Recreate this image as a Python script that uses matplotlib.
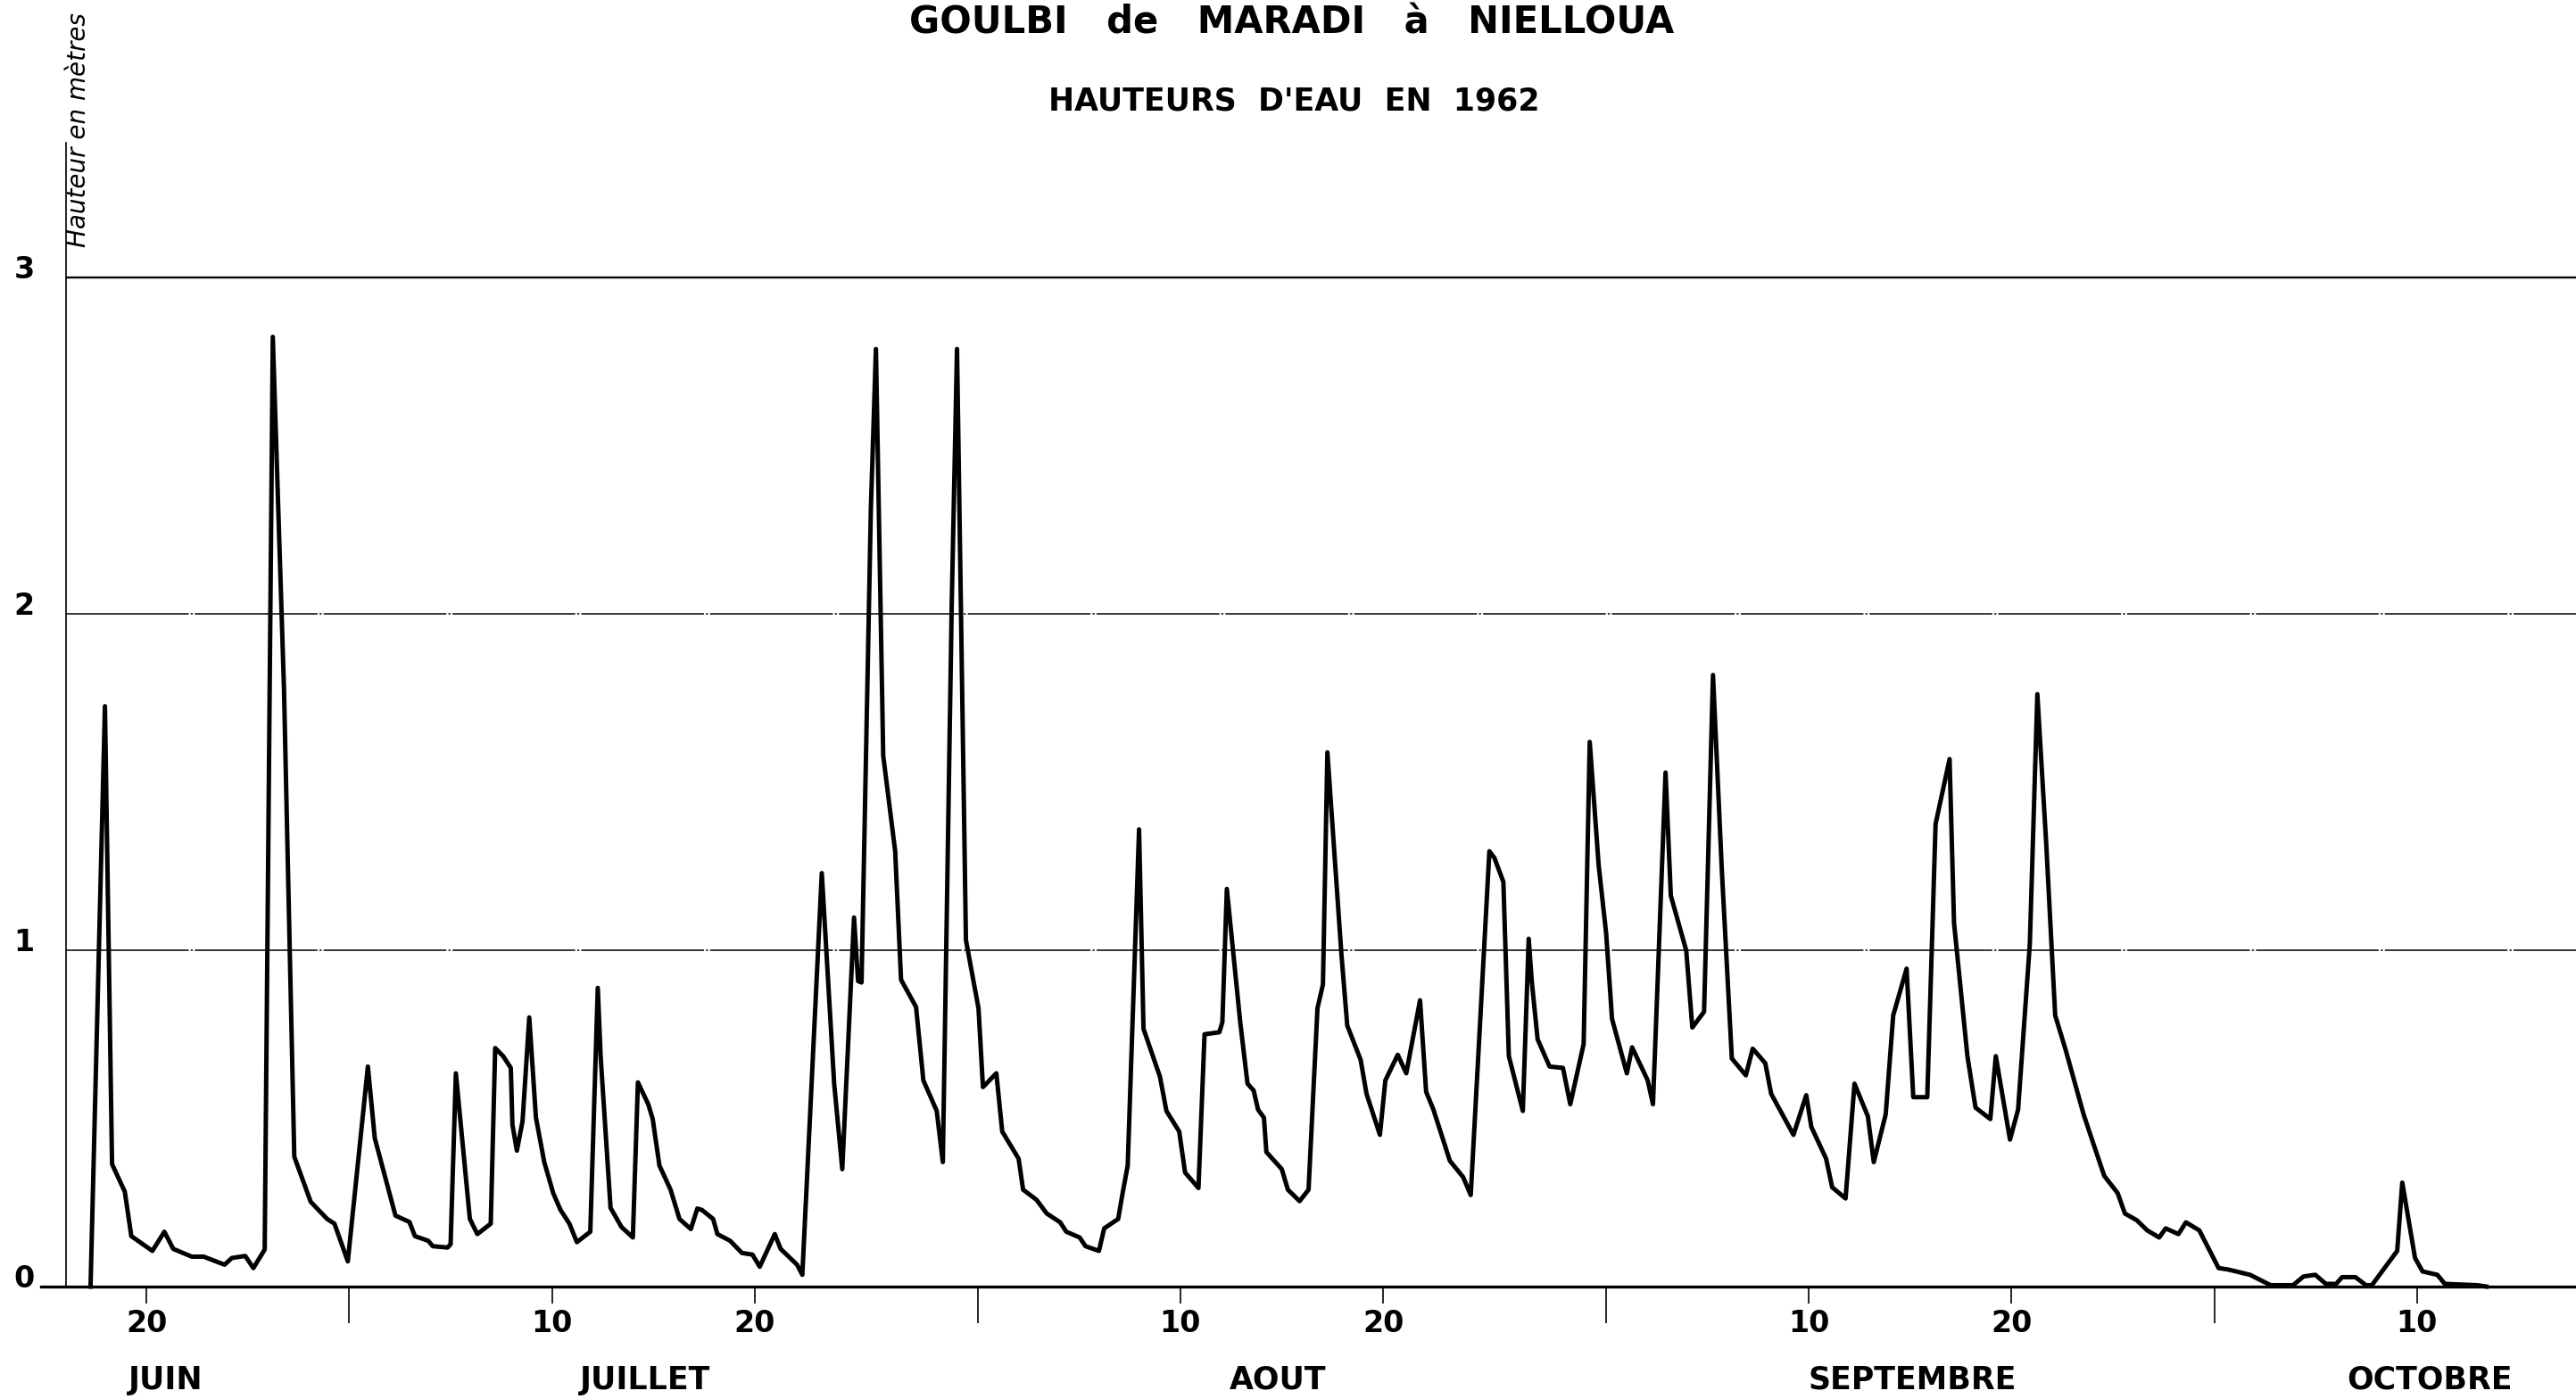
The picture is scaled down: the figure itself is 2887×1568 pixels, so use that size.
import matplotlib
matplotlib.use('Agg')
import matplotlib.pyplot as plt
from matplotlib import transforms

# Water levels of the Goulbi de Maradi at Nielloua, 1962.
# Time in days counted from 31 May (June n = n, July n = 30+n, Aug n = 61+n,
# Sep n = 92+n, Oct n = 122+n); readings are not exactly one per day.
days = [
    17.24, 17.95, 18.30, 18.93, 19.25, 20.29, 20.88, 21.32, 22.23, 22.82,
    23.85, 24.21, 24.87, 25.27, 25.83, 26.23, 26.78, 27.29, 28.10, 28.91,
    29.27, 29.93, 30.92, 31.26, 32.28, 32.97, 33.24, 33.90, 34.12, 34.85,
    35.00, 35.26, 35.95, 36.32, 36.98, 37.20, 37.59, 37.97, 38.05, 38.27,
    38.55, 38.88, 39.21, 39.62, 40.06, 40.42, 40.86, 41.23, 41.89, 42.26,
    42.40, 42.89, 43.43, 43.99, 44.24, 44.75, 44.97, 45.30, 45.85, 46.29,
    46.85, 47.17, 47.39, 47.95, 48.16, 48.79, 49.37, 49.89, 50.25, 50.99,
    51.28, 52.09, 52.35, 53.31, 53.92, 54.32, 54.90, 55.10, 55.27, 55.73,
    55.98, 56.34, 56.93, 57.22, 57.96, 58.32, 58.98, 59.28, 59.72, 59.98,
    60.42, 61.04, 61.26, 61.92, 62.21, 63.02, 63.24, 63.90, 64.41, 65.07,
    65.37, 66.03, 66.32, 66.98, 67.24, 67.93, 68.15, 68.40, 68.96, 69.18,
    69.99, 70.31, 70.94, 71.23, 71.89, 72.19, 72.92, 73.07, 73.29, 73.95,
    74.31, 74.61, 74.83, 75.12, 75.24, 76.00, 76.30, 76.88, 77.32, 77.76,
    78.03, 78.25, 78.94, 79.23, 79.89, 80.18, 80.84, 81.11, 81.72, 82.14,
    82.82, 83.12, 83.48, 84.29, 84.95, 85.32, 86.24, 86.49, 86.93, 87.20,
    87.89, 88.18, 88.33, 88.62, 89.21, 89.87, 90.23, 90.89, 91.19, 91.63,
    92.00, 92.29, 93.02, 93.28, 94.05, 94.31, 94.93, 95.19, 95.95, 96.25,
    96.83, 97.27, 97.71, 98.20, 98.89, 99.23, 99.85, 100.14, 101.02, 101.24,
    101.87, 102.12, 102.85, 103.15, 103.81, 104.25, 104.91, 105.20, 105.79, 106.16,
    106.82, 107.15, 107.84, 108.25, 108.94, 109.16, 109.82, 110.22, 110.95, 111.22,
    111.92, 112.32, 112.90, 113.27, 113.71, 114.15, 114.66, 115.55, 116.06, 116.57,
    117.23, 117.59, 118.18, 118.69, 119.28, 119.60, 120.23, 120.60, 121.26, 122.21,
    122.66, 123.76, 124.78, 125.88, 126.40, 126.98, 127.50, 128.01, 128.30, 128.96,
    129.48, 129.77, 131.02, 131.27, 131.90, 132.27, 133.00, 133.37, 134.98, 135.42,
]
hauteur = [
    0.000, 1.725, 0.364, 0.282, 0.150, 0.106, 0.163, 0.112, 0.089, 0.089,
    0.065, 0.085, 0.091, 0.055, 0.110, 2.823, 1.781, 0.386, 0.252, 0.201,
    0.187, 0.075, 0.654, 0.441, 0.211, 0.192, 0.150, 0.136, 0.120, 0.116,
    0.126, 0.634, 0.201, 0.156, 0.187, 0.709, 0.685, 0.650, 0.481, 0.404,
    0.492, 0.800, 0.502, 0.370, 0.278, 0.228, 0.187, 0.132, 0.163, 0.888,
    0.685, 0.234, 0.177, 0.146, 0.607, 0.542, 0.498, 0.360, 0.288, 0.201,
    0.171, 0.232, 0.228, 0.201, 0.156, 0.136, 0.100, 0.095, 0.059, 0.156,
    0.112, 0.065, 0.035, 1.229, 0.603, 0.349, 1.097, 0.908, 0.904, 2.310,
    2.787, 1.578, 1.294, 0.912, 0.831, 0.613, 0.522, 0.370, 2.030, 2.787,
    1.030, 0.827, 0.593, 0.634, 0.461, 0.380, 0.288, 0.258, 0.217, 0.191,
    0.163, 0.146, 0.120, 0.106, 0.173, 0.201, 0.278, 0.360, 1.359, 0.766,
    0.624, 0.522, 0.461, 0.339, 0.293, 0.750, 0.756, 0.786, 1.182, 0.786,
    0.603, 0.583, 0.526, 0.502, 0.400, 0.349, 0.288, 0.254, 0.288, 0.827,
    0.898, 1.588, 0.989, 0.776, 0.674, 0.573, 0.451, 0.613, 0.689, 0.634,
    0.851, 0.579, 0.526, 0.374, 0.325, 0.272, 1.294, 1.274, 1.203, 0.685,
    0.522, 1.034, 0.908, 0.735, 0.654, 0.650, 0.542, 0.721, 1.619, 1.253,
    1.050, 0.796, 0.634, 0.711, 0.613, 0.542, 1.528, 1.162, 0.999, 0.770,
    0.817, 1.818, 1.233, 0.678, 0.628, 0.707, 0.664, 0.573, 0.475, 0.451,
    0.569, 0.475, 0.380, 0.295, 0.262, 0.603, 0.506, 0.370, 0.512, 0.806,
    0.945, 0.563, 0.563, 1.375, 1.568, 1.081, 0.685, 0.532, 0.498, 0.685,
    0.437, 0.526, 1.020, 1.761, 1.314, 0.806, 0.705, 0.512, 0.420, 0.329,
    0.278, 0.217, 0.197, 0.167, 0.146, 0.173, 0.156, 0.191, 0.167, 0.055,
    0.051, 0.035, 0.004, 0.004, 0.030, 0.035, 0.008, 0.008, 0.028, 0.028,
    0.004, 0.004, 0.106, 0.309, 0.085, 0.045, 0.035, 0.008, 0.004, 0.000,
]

day_ticks = [20, 40, 50, 71, 81, 102, 112, 132]
day_labels = ['20', '10', '20', '10', '20', '10', '20', '10']
month_ends = [30, 61, 92, 122]
months = ['JUIN', 'JUILLET', 'AOUT', 'SEPTEMBRE', 'OCTOBRE']
month_pos = [20.96, 44.58, 75.82, 107.1, 132.6]
levels = [0, 1, 2, 3]

plt.rcParams['font.family'] = ['DejaVu Sans']

fig = plt.figure(figsize=(28.87, 15.68), dpi=100)
ax = fig.add_axes([0.02563, 0.08036, 0.97437, 0.8176])
ax.set_xlim(16.03, 139.84)
ax.set_ylim(0, 3.40)

# horizontal reference lines
ax.axhline(3, color='k', linewidth=1.7)
for lv in (1, 2):
    ax.axhline(lv, color='k', linewidth=1.1, linestyle=(0, (90, 1.5, 1.5, 1.5)))
ax.axhline(0, xmin=-0.01, xmax=1, color='k', linewidth=2.4, clip_on=False)

ax.plot(days, hauteur, color='k', linewidth=3.6, solid_joinstyle='round',
        clip_on=False, zorder=5)

for s in ['top', 'right', 'bottom']:
    ax.spines[s].set_visible(False)
ax.spines['left'].set_linewidth(1.2)
ax.set_yticks([])

ax.set_xticks(day_ticks)
ax.set_xticklabels(day_labels, fontsize=24, fontweight='bold')
ax.set_xticks(month_ends, minor=True)
ax.tick_params(axis='x', which='major', length=13.7, width=1.2, pad=4, direction='out')
ax.tick_params(axis='x', which='minor', length=29.5, width=1.2, direction='out')

# level labels to the left of the axis
trans_y = transforms.blended_transform_factory(fig.transFigure, ax.transData)
for lv in levels:
    ax.text(0.0094, lv + 0.022, str(lv), transform=trans_y, ha='center', va='center',
            fontsize=24, fontweight='bold')

# month names under the day labels
trans_x = transforms.blended_transform_factory(ax.transData, fig.transFigure)
for m, p in zip(months, month_pos):
    ax.text(p, 0.0134, m, transform=trans_x, ha='center', va='center',
            fontsize=25, fontweight='bold', clip_on=False)

fig.text(0.0305, 0.8233, 'Hauteur en mètres', rotation=90, ha='center', va='bottom',
         fontsize=20, fontstyle='italic')
fig.text(0.5023, 0.9273, "HAUTEURS  D'EAU  EN  1962", ha='center', va='center',
         fontsize=25, fontweight='bold')
fig.text(0.5016, 0.9758, 'GOULBI   de   MARADI   à   NIELLOUA', ha='center',
         va='baseline', fontsize=30, fontweight='bold')

fig.savefig('out.png', dpi=100)
plt.close()
